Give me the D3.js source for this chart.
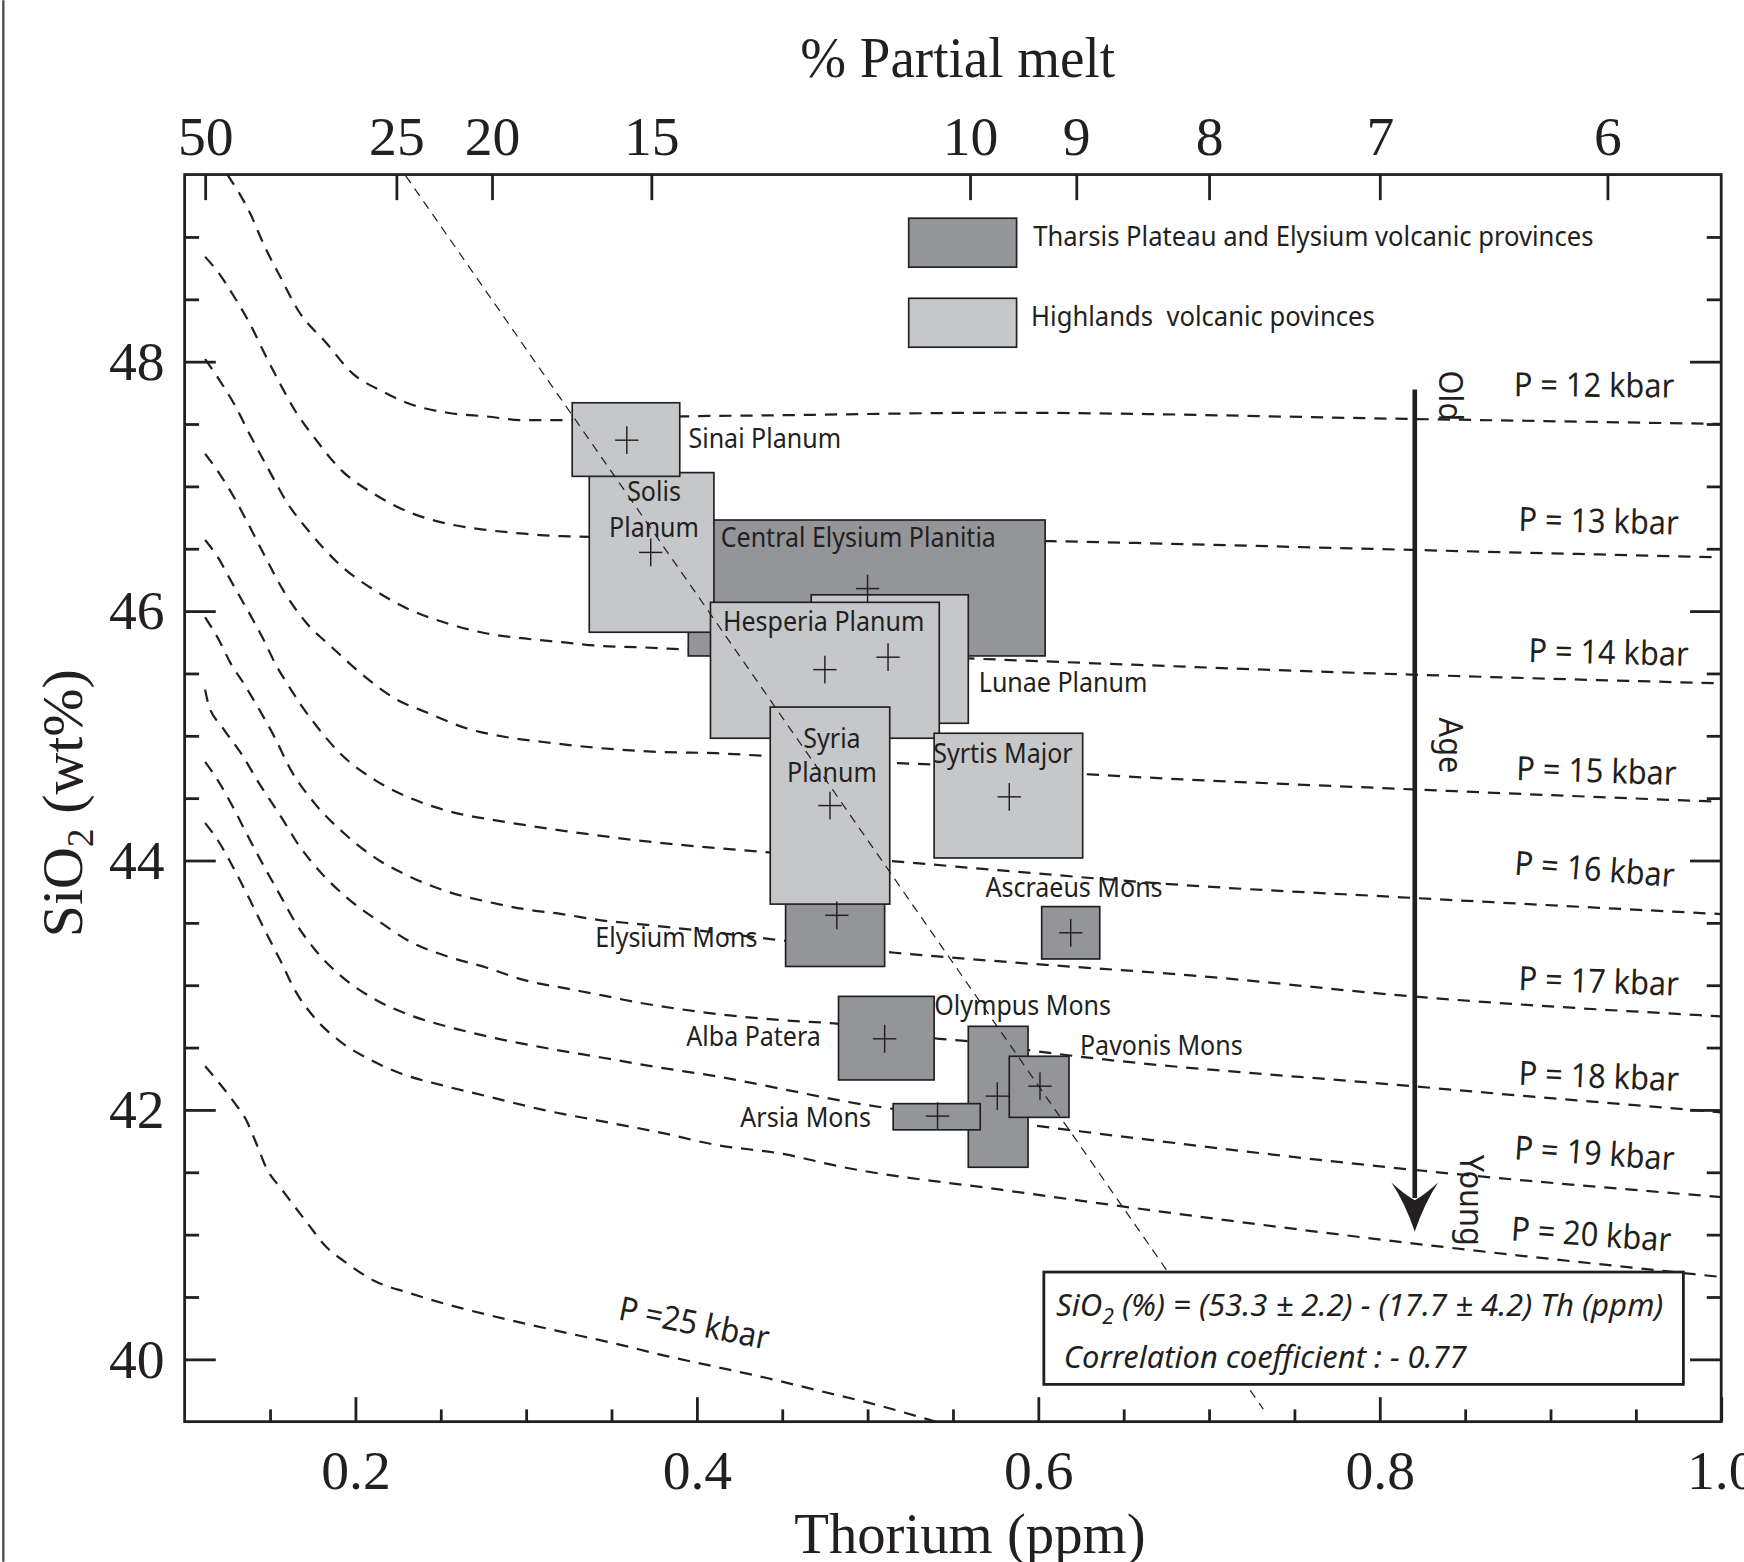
<!DOCTYPE html>
<html>
<head>
<meta charset="utf-8">
<script src="https://cdn.jsdelivr.net/npm/d3@7"></script>
<style>
  body { margin: 0; background: #fff; }
  svg { display: block; }
  text { white-space: pre; }
</style>
</head>
<body>
<div id="chart"></div>
<script>
// Th (ppm) vs SiO2 (wt%) for martian volcanic provinces

// provinces, in drawing order (later ones sit on top)
const provinces = ["Central Elysium Planitia", "Solis Planum", "Sinai Planum", "Lunae Planum",
  "Hesperia Planum", "Elysium Mons", "Syria Planum", "Syrtis Major", "Ascraeus Mons",
  "Alba Patera", "Olympus Mons", "Arsia Mons", "Pavonis Mons"];
const provinceGroup = ["tharsis", "highlands", "highlands", "highlands", "highlands", "tharsis",
  "highlands", "highlands", "tharsis", "tharsis", "tharsis", "tharsis", "tharsis"];
const thMin  = [0.395, 0.337, 0.327, 0.467, 0.408, 0.452, 0.443, 0.539, 0.602, 0.483, 0.559, 0.515, 0.583];
const thMax  = [0.604, 0.410, 0.390, 0.559, 0.542, 0.510, 0.513, 0.626, 0.636, 0.539, 0.594, 0.566, 0.618];
const thMean = [0.500, 0.373, 0.359, 0.512, 0.475, 0.482, 0.478, 0.583, 0.619, 0.510, 0.576, 0.541, 0.601];
const siMin  = [45.64, 45.83, 47.08, 45.10, 44.98, 43.15, 43.65, 44.02, 43.21, 42.24, 41.54, 41.84, 41.94];
const siMax  = [46.73, 47.11, 47.67, 46.13, 46.07, 43.96, 45.23, 45.02, 43.63, 42.91, 42.67, 42.05, 42.43];
const siMean = [46.18, 46.47, 47.37, 45.63, 45.53, 43.56, 44.44, 44.51, 43.42, 42.57, 42.11, 41.95, 42.19];

// isobars (P in kbar), [Th, SiO2] pairs
const p12 = [[0.125,49.50],[0.138,49.20],[0.147,48.92],[0.156,48.68],[0.167,48.40],[0.183,48.15],[0.198,47.91],
  [0.216,47.76],[0.232,47.66],[0.254,47.59],[0.277,47.56],[0.299,47.53],[0.324,47.53],[0.391,47.56],[0.449,47.57],
  [0.578,47.59],[0.819,47.54],[1.0,47.50]];
const p13 = [[0.112,48.84],[0.120,48.71],[0.129,48.52],[0.138,48.31],[0.147,48.06],[0.156,47.82],[0.165,47.60],
  [0.176,47.39],[0.191,47.14],[0.212,46.93],[0.232,46.79],[0.254,46.70],[0.277,46.65],[0.299,46.62],[0.321,46.60],
  [0.608,46.56],[0.819,46.49],[1.0,46.43]];
const p14 = [[0.112,48.02],[0.120,47.86],[0.129,47.66],[0.138,47.42],[0.149,47.14],[0.160,46.87],[0.174,46.62],
  [0.191,46.37],[0.212,46.16],[0.232,46.01],[0.254,45.90],[0.277,45.82],[0.299,45.78],[0.321,45.75],[0.344,45.72],
  [0.366,45.71],[0.395,45.69],[0.559,45.62],[0.578,45.61],[0.819,45.49],[1.0,45.42]];
const p15 = [[0.112,47.26],[0.120,47.11],[0.129,46.91],[0.138,46.68],[0.147,46.44],[0.158,46.16],[0.171,45.91],
  [0.187,45.70],[0.205,45.48],[0.223,45.30],[0.243,45.18],[0.265,45.06],[0.288,44.99],[0.310,44.95],[0.344,44.90],
  [0.378,44.87],[0.411,44.86],[0.438,44.84],[0.518,44.78],[0.539,44.77],[0.630,44.69],[0.819,44.57],[1.0,44.47]];
const p16 = [[0.112,46.57],[0.120,46.42],[0.126,46.27],[0.133,46.10],[0.140,45.93],[0.147,45.75],[0.153,45.58],
  [0.160,45.42],[0.168,45.25],[0.176,45.10],[0.191,44.86],[0.212,44.64],[0.234,44.49],[0.259,44.38],[0.283,44.32],
  [0.321,44.24],[0.366,44.16],[0.411,44.10],[0.438,44.07],[0.518,43.99],[0.578,43.92],[0.677,43.81],[0.819,43.70],
  [1.0,43.57]];
const p17 = [[0.112,45.95],[0.120,45.77],[0.127,45.58],[0.135,45.41],[0.142,45.25],[0.153,44.98],[0.162,44.73],
  [0.176,44.46],[0.194,44.21],[0.214,44.00],[0.232,43.87],[0.254,43.75],[0.277,43.67],[0.299,43.61],[0.321,43.57],
  [0.344,43.52],[0.366,43.49],[0.400,43.44],[0.443,43.37],[0.516,43.26],[0.578,43.19],[0.697,43.07],[0.819,42.91],
  [1.0,42.75]];
const p18 = [[0.112,45.37],[0.114,45.25],[0.122,45.07],[0.133,44.86],[0.144,44.61],[0.156,44.36],[0.167,44.12],
  [0.180,43.90],[0.196,43.69],[0.214,43.51],[0.232,43.35],[0.254,43.23],[0.277,43.14],[0.299,43.04],[0.321,42.98],
  [0.344,42.92],[0.366,42.86],[0.389,42.81],[0.411,42.77],[0.449,42.72],[0.483,42.69],[0.542,42.57],[0.559,42.55],
  [0.594,42.48],[0.819,42.19],[1.0,41.98]];
const p19 = [[0.112,44.79],[0.120,44.63],[0.129,44.41],[0.138,44.17],[0.147,43.94],[0.156,43.72],[0.165,43.50],
  [0.176,43.29],[0.191,43.08],[0.211,42.89],[0.234,42.75],[0.259,42.65],[0.277,42.59],[0.310,42.50],[0.344,42.42],
  [0.378,42.34],[0.411,42.27],[0.449,42.17],[0.486,42.07],[0.594,41.88],[0.819,41.52],[1.0,41.30]];
const p20 = [[0.112,44.30],[0.120,44.15],[0.129,43.93],[0.138,43.69],[0.147,43.44],[0.156,43.20],[0.165,42.95],
  [0.176,42.74],[0.191,42.55],[0.209,42.40],[0.227,42.29],[0.250,42.20],[0.277,42.11],[0.310,42.00],[0.344,41.91],
  [0.378,41.82],[0.411,41.72],[0.449,41.65],[0.486,41.54],[0.578,41.36],[0.819,40.93],[1.0,40.66]];
const p25 = [[0.112,42.35],[0.120,42.22],[0.129,42.06],[0.136,41.92],[0.142,41.73],[0.148,41.53],[0.157,41.36],
  [0.172,41.09],[0.183,40.90],[0.193,40.79],[0.211,40.63],[0.232,40.53],[0.262,40.41],[0.292,40.31],[0.321,40.22],
  [0.351,40.13],[0.381,40.03],[0.411,39.94],[0.441,39.85],[0.471,39.75],[0.501,39.65],[0.540,39.50]];
const isobars = [p12, p13, p14, p15, p16, p17, p18, p19, p20, p25];
const pressures = [12, 13, 14, 15, 16, 17, 18, 19, 20, 25];

// dashed trend line through the data
const trendTh = [0.2295, 0.7318];
const trendSi = [49.49, 39.60];

// axis ticks
const thMajor = [0.2, 0.4, 0.6, 0.8, 1.0];
const thMinor = [0.15, 0.25, 0.3, 0.35, 0.45, 0.5, 0.55, 0.65, 0.7, 0.75, 0.85, 0.9, 0.95];
const siMajor = [40, 42, 44, 46, 48];
const siMinor = [40.5, 41, 41.5, 42.5, 43, 43.5, 44.5, 45, 45.5, 46.5, 47, 47.5, 48.5, 49];
const meltTicks = [50, 25, 20, 15, 10, 9, 8, 7, 6];
const thPerMelt = 5.6; // Th (ppm) at 1 % melt, from where the top ticks sit

// ---- layout (viewBox units) ----
const W = 1568, H = 1404;
const ink = "#231f20";
const sans = "'Noto Sans', 'Open Sans', sans-serif";
const serif = "'Liberation Serif', 'Times New Roman', serif";
const fills = { tharsis: "#939598", highlands: "#c6c7c9" };

const svg = d3.select("#chart").append("svg")
  .attr("width", 1744).attr("height", 1562)
  .attr("viewBox", `0 0 ${W} ${H}`);

const plot = { left: 166, right: 1547.5, top: 156.75, bottom: 1278 };
const x = d3.scaleLinear().domain([0.1, 1.0]).range([plot.left, plot.right]);
const y = d3.scaleLinear().domain([39.5, 49.5]).range([plot.bottom, plot.top]);
const melt = d3.scalePow().exponent(-1)
  .domain([thPerMelt / 0.1, thPerMelt / 1.0]).range([plot.left, plot.right]);

function label(g, str, px, py, o = {}) {
  return g.append("text")
    .attr("transform", `translate(${px},${py}) rotate(${o.rotate || 0}) scale(${o.sx || 0.9},1)`)
    .attr("text-anchor", o.anchor || "start")
    .attr("font-family", o.family || sans)
    .attr("font-size", o.size || 25)
    .attr("font-style", o.style || "normal")
    .attr("fill", ink)
    .text(str);
}

// left edge rule of the page
svg.append("line").attr("x1", 3).attr("x2", 3).attr("y1", 0).attr("y2", H)
  .attr("stroke", "#444").attr("stroke-width", 2);

svg.append("clipPath").attr("id", "plotclip").append("rect")
  .attr("x", plot.left).attr("y", plot.top)
  .attr("width", plot.right - plot.left).attr("height", plot.bottom - plot.top);

// isobars
const line = d3.line().x(d => x(d[0])).y(d => y(d[1])).curve(d3.curveMonotoneX);
svg.append("g").attr("clip-path", "url(#plotclip)")
  .selectAll("path").data(isobars).join("path")
  .attr("d", line)
  .attr("fill", "none").attr("stroke", ink)
  .attr("stroke-width", 2).attr("stroke-dasharray", "11,8");

// province boxes
const idx = d3.range(provinces.length);
svg.append("g").selectAll("rect").data(idx).join("rect")
  .attr("x", i => x(thMin[i])).attr("y", i => y(siMax[i]))
  .attr("width", i => x(thMax[i]) - x(thMin[i]))
  .attr("height", i => y(siMin[i]) - y(siMax[i]))
  .attr("fill", i => fills[provinceGroup[i]])
  .attr("stroke", ink).attr("stroke-width", 1.5);

// mean crosses
const crosses = svg.append("g").attr("stroke", ink).attr("stroke-width", 1.3);
idx.forEach(i => {
  const cx = x(thMean[i]), cy = y(siMean[i]);
  crosses.append("line").attr("x1", cx - 10.5).attr("x2", cx + 10.5).attr("y1", cy).attr("y2", cy);
  crosses.append("line").attr("x1", cx).attr("x2", cx).attr("y1", cy - 12.5).attr("y2", cy + 12.5);
});

// trend line
svg.append("line")
  .attr("x1", x(trendTh[0])).attr("y1", y(trendSi[0]))
  .attr("x2", x(trendTh[1])).attr("y2", y(trendSi[1]))
  .attr("stroke", ink).attr("stroke-width", 1.1).attr("stroke-dasharray", "8,6");

// province names
const names = svg.append("g");
const nameLayout = {
  "Central Elysium Planitia": [[648, 492]],
  "Solis Planum": [[588, 450, "Solis"], [588, 483, "Planum"]],
  "Sinai Planum": [[619, 403]],
  "Lunae Planum": [[880, 622]],
  "Hesperia Planum": [[650, 567]],
  "Elysium Mons": [[681, 851]],
  "Syria Planum": [[748, 672, "Syria"], [748, 703, "Planum"]],
  "Syrtis Major": [[839, 686]],
  "Ascraeus Mons": [[886, 806]],
  "Alba Patera": [[738, 940]],
  "Olympus Mons": [[840, 912]],
  "Pavonis Mons": [[971, 948]],
  "Arsia Mons": [[783, 1013]]
};
const endAnchored = ["Elysium Mons", "Alba Patera", "Arsia Mons"];
provinces.forEach(p => {
  nameLayout[p].forEach(([px, py, part]) => {
    const anchor = part ? "middle" : (endAnchored.includes(p) ? "end" : "start");
    label(names, part || p, px, py, { anchor });
  });
});

// isobar labels
const pLayout = [[1361, 356, 0.5], [1365, 477, 1.4], [1374, 595, 1.4], [1363, 701, 1.8], [1361, 786, 4.5],
  [1365, 890, 2], [1365, 975, 2.3], [1361, 1042, 4], [1358, 1115, 4], [555, 1186, 11.5]];
const pl = svg.append("g");
pressures.forEach((p, i) => {
  const [px, py, rot] = pLayout[i];
  label(pl, p === 25 ? `P =${p} kbar` : `P = ${p} kbar`, px, py, { size: 30, sx: 0.92, rotate: rot });
});

// age arrow
const arrow = { x: 1272, y1: 350, y2: 1107 };
svg.append("line").attr("x1", arrow.x).attr("x2", arrow.x)
  .attr("y1", arrow.y1).attr("y2", arrow.y2 - 30)
  .attr("stroke", ink).attr("stroke-width", 4.2);
svg.append("path")
  .attr("d", `M${arrow.x},${arrow.y2} Q${arrow.x - 9},${arrow.y2 - 26} ${arrow.x - 21},${arrow.y2 - 44}
    Q${arrow.x - 9},${arrow.y2 - 33} ${arrow.x},${arrow.y2 - 28}
    Q${arrow.x + 9},${arrow.y2 - 33} ${arrow.x + 21},${arrow.y2 - 44}
    Q${arrow.x + 9},${arrow.y2 - 26} ${arrow.x},${arrow.y2} Z`)
  .attr("fill", ink);
label(svg, "Old", 1293.5, 333, { size: 30, sx: 0.92, rotate: 90 });
label(svg, "Age", 1293.5, 645, { size: 30, sx: 0.92, rotate: 90 });
label(svg, "Young", 1312.5, 1038, { size: 30, sx: 0.92, rotate: 90 });

// legend
const legend = [["tharsis", "Tharsis Plateau and Elysium volcanic provinces", 196, 929, 221],
                ["highlands", "Highlands  volcanic povinces", 268, 927, 293]];
legend.forEach(([grp, txt, by, tx, ty]) => {
  svg.append("rect").attr("x", 817).attr("y", by).attr("width", 97).attr("height", 44)
    .attr("fill", fills[grp]).attr("stroke", ink).attr("stroke-width", 1.5);
  label(svg, txt, tx, ty, { size: 24, sx: 0.96 });
});

// regression box
svg.append("rect").attr("x", 938.5).attr("y", 1143.5).attr("width", 575).attr("height", 101)
  .attr("fill", "#fff").attr("stroke", ink).attr("stroke-width", 2.5);
function fit(t, px, py, w) {
  const len = t.node().getComputedTextLength();
  t.attr("transform", `translate(${px},${py}) scale(${w / len},1)`);
}
const f1 = svg.append("text").attr("font-family", sans).attr("font-size", 28)
  .attr("font-style", "italic").attr("fill", ink);
f1.append("tspan").text("SiO");
f1.append("tspan").attr("font-size", 19).attr("dy", 7).text("2");
f1.append("tspan").attr("dy", -7).text(" (%) = (53.3 \u00b1 2.2) - (17.7 \u00b1 4.2) Th (ppm)");
fit(f1, 949.5, 1183, 546);
const f2 = svg.append("text").attr("font-family", sans).attr("font-size", 28)
  .attr("font-style", "italic").attr("fill", ink).text("Correlation coefficient : - 0.77");
fit(f2, 956.5, 1230, 362);

// axes
function styleAxis(g, labels) {
  g.select(".domain").remove();
  g.attr("color", ink).attr("font-family", serif).attr("font-size", 50);
  g.selectAll("line").attr("stroke-width", 2.5);
  if (!labels) g.selectAll("text").remove();
  g.selectAll("text").attr("fill", ink);
}
svg.append("g").attr("transform", `translate(0,${plot.bottom})`)
  .call(d3.axisBottom(x).tickValues(thMajor).tickSizeInner(-22).tickSizeOuter(0)
    .tickPadding(25).tickFormat(d3.format(".1f")))
  .call(g => styleAxis(g, true));
svg.append("g").attr("transform", `translate(0,${plot.bottom})`)
  .call(d3.axisBottom(x).tickValues(thMinor).tickSizeInner(-11).tickSizeOuter(0))
  .call(g => styleAxis(g, false));
svg.append("g").attr("transform", `translate(${plot.left},0)`)
  .call(d3.axisLeft(y).tickValues(siMajor).tickSizeInner(-28).tickSizeOuter(0).tickPadding(18))
  .call(g => styleAxis(g, true));
svg.append("g").attr("transform", `translate(${plot.left},0)`)
  .call(d3.axisLeft(y).tickValues(siMinor).tickSizeInner(-13).tickSizeOuter(0))
  .call(g => styleAxis(g, false));
svg.append("g").attr("transform", `translate(${plot.right},0)`)
  .call(d3.axisRight(y).tickValues(siMajor).tickSizeInner(-28).tickSizeOuter(0))
  .call(g => styleAxis(g, false));
svg.append("g").attr("transform", `translate(${plot.right},0)`)
  .call(d3.axisRight(y).tickValues(siMinor).tickSizeInner(-13).tickSizeOuter(0))
  .call(g => styleAxis(g, false));
svg.append("g").attr("transform", `translate(0,${plot.top})`)
  .call(d3.axisTop(melt).tickValues(meltTicks).tickSizeInner(-23).tickSizeOuter(0)
    .tickPadding(18).tickFormat(d3.format("d")))
  .call(g => styleAxis(g, true));

// frame
svg.append("rect").attr("x", plot.left).attr("y", plot.top)
  .attr("width", plot.right - plot.left).attr("height", plot.bottom - plot.top)
  .attr("fill", "none").attr("stroke", ink).attr("stroke-width", 2.5);

// axis titles
label(svg, "% Partial melt", 861, 69, { family: serif, size: 51, sx: 0.97, anchor: "middle" });
label(svg, "Thorium (ppm)", 872, 1396, { family: serif, size: 51, sx: 1, anchor: "middle" });
const yt = svg.append("text")
  .attr("transform", "translate(74,722) rotate(-90)")
  .attr("text-anchor", "middle").attr("font-family", serif).attr("font-size", 52).attr("fill", ink);
yt.append("tspan").text("SiO");
yt.append("tspan").attr("font-size", 34).attr("dy", 10).text("2");
yt.append("tspan").attr("dy", -10).text(" (wt%)");
</script>
</body>
</html>
